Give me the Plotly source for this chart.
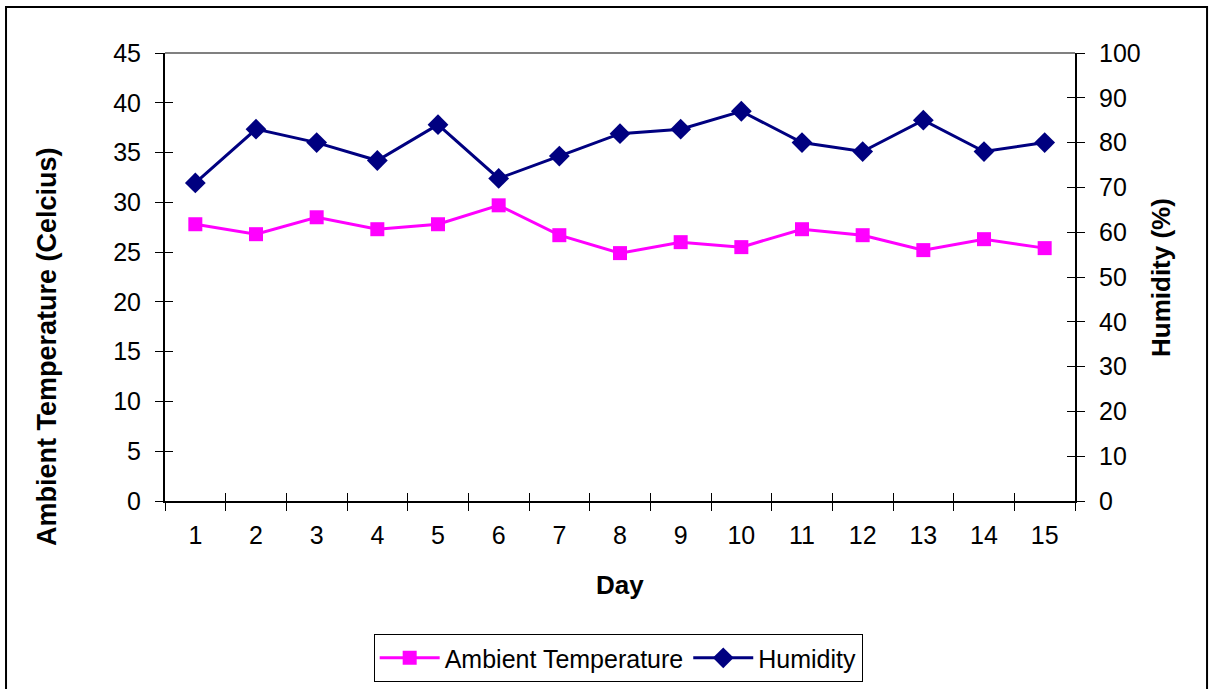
import plotly.graph_objects as go

# Daily readings over a 15-day period
days = [str(d) for d in range(1, 16)]
ambient_temp = [27.8, 26.8, 28.5, 27.3, 27.8, 29.7, 26.7, 24.9, 26.0, 25.5, 27.3, 26.7, 25.2, 26.3, 25.4]
humidity = [71, 83, 80, 76, 84, 72, 77, 82, 83, 87, 80, 78, 85, 78, 80]

temp_ticks = list(range(0, 50, 5))
hum_ticks = list(range(0, 110, 10))

FONT = "Liberation Sans, Arial, sans-serif"
MAGENTA = "#FF00FF"
NAVY = "#000080"
TICK_SIZE = 25
TITLE_SIZE = 26

fig = go.Figure()

fig.add_trace(go.Scatter(
    x=days, y=ambient_temp, name="Ambient Temperature",
    mode="lines+markers",
    line=dict(color=MAGENTA, width=3),
    marker=dict(symbol="square", size=14, color=MAGENTA),
    yaxis="y",
))
fig.add_trace(go.Scatter(
    x=days, y=humidity, name="Humidity",
    mode="lines+markers",
    line=dict(color=NAVY, width=3),
    marker=dict(symbol="diamond", size=16, color=NAVY),
    yaxis="y2",
))

axis_common = dict(
    showgrid=False, zeroline=False, showline=True, automargin=False,
    linecolor="#000000", linewidth=2,
    ticks="outside", ticklen=8, tickwidth=1, tickcolor="#000000",
    tickfont=dict(family=FONT, size=TICK_SIZE, color="#000000"),
)
inside_ticks = dict(ticks="inside", ticklen=8, tickwidth=1, tickcolor="#000000", automargin=False,
                    showticklabels=False, showgrid=False, zeroline=False, showline=False)

title_font = dict(family=FONT, size=TITLE_SIZE, color="#000000")

fig.update_layout(
    width=1216, height=689,
    margin=dict(l=165, r=141, t=53, b=188, autoexpand=False),
    paper_bgcolor="white", plot_bgcolor="white",
    font=dict(family=FONT, color="#000000"),
    xaxis=dict(
        type="category", tickson="boundaries", range=[-0.5, 14.5],
        ticklabelstandoff=11,
        **axis_common,
    ),
    yaxis=dict(
        range=[0, 45], tickvals=temp_ticks, ticklabelstandoff=9,
        **axis_common,
    ),
    yaxis2=dict(
        range=[0, 100], tickvals=hum_ticks, overlaying="y", side="right", ticklabelstandoff=9,
        **axis_common,
    ),
    # inside halves of the crossing tick marks
    yaxis3=dict(range=[0, 45], tickvals=temp_ticks, overlaying="y", side="left", **inside_ticks),
    yaxis4=dict(range=[0, 100], tickvals=hum_ticks, overlaying="y", side="right", **inside_ticks),
    xaxis2=dict(type="category", tickson="boundaries", range=[-0.5, 14.5],
                overlaying="x", side="bottom", **inside_ticks),
    legend=dict(
        orientation="h", x=0.498, xanchor="center", y=-0.297, yanchor="top",
        bordercolor="#000000", borderwidth=1,
        font=dict(family=FONT, size=25),
        itemwidth=60,
    ),
    showlegend=True,
    annotations=[
        dict(text="<b>Ambient Temperature (Celcius)</b>", textangle=-90,
             xref="paper", yref="paper", x=-0.1297, y=0.346,
             xanchor="center", yanchor="middle", showarrow=False,
             font=dict(family=FONT, size=27, color="#000000")),
        dict(text="<b>Humidity (%)</b>", textangle=-90,
             xref="paper", yref="paper", x=1.0945, y=0.5,
             xanchor="center", yanchor="middle", showarrow=False, font=title_font),
        dict(text="<b>Day</b>",
             xref="paper", yref="paper", x=0.5, y=-0.1875,
             xanchor="center", yanchor="middle", showarrow=False, font=title_font),
    ],
    shapes=[
        # grey top edge of the plot area
        dict(type="line", xref="x domain", yref="y domain", x0=0, x1=1, y0=1, y1=1,
             line=dict(color="#808080", width=2)),
        # outer frame
        dict(type="rect", xref="paper", yref="paper",
             x0=-0.1747, x1=1.1451, y0=-0.43, y1=1.1027,
             line=dict(color="#000000", width=2)),
    ],
)

# empty traces so the overlay tick axes are drawn
fig.add_trace(go.Scatter(x=days, y=[None] * 15, xaxis="x2", yaxis="y3", showlegend=False, hoverinfo="skip"))
fig.add_trace(go.Scatter(x=days, y=[None] * 15, yaxis="y4", showlegend=False, hoverinfo="skip"))

fig.write_html("out.html")
